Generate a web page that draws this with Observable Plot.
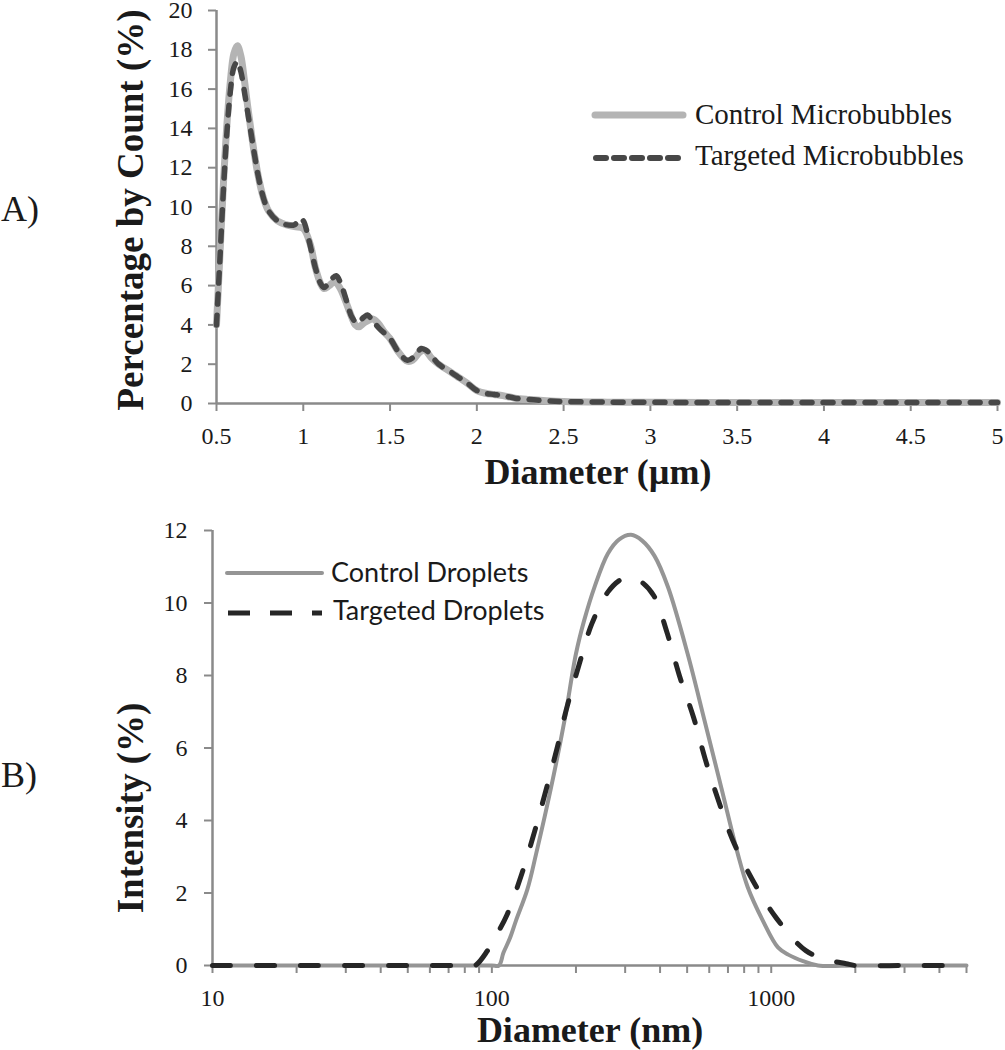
<!DOCTYPE html>
<html>
<head>
<meta charset="utf-8">
<script src="https://cdn.jsdelivr.net/npm/d3@7"></script>
<script src="https://cdn.jsdelivr.net/npm/@observablehq/plot@0.6"></script>
<style>
  html, body { margin: 0; padding: 0; background: #ffffff; }
  #wrap { position: relative; width: 1005px; height: 1050px; overflow: hidden; }
  #chartA, #chartB, #overlay { position: absolute; left: 0; }
  #chartA { top: 0; }
  #chartB { top: 500px; }
  #overlay { top: 0; pointer-events: none; }
  #wrap svg [aria-label$="axis tick"] path,
  #wrap svg .tick line { stroke: #8a8a8a; stroke-width: 2px; }
</style>
</head>
<body>
<div id="wrap">
  <div id="chartA"></div>
  <div id="chartB"></div>
  <svg id="overlay" width="1005" height="1050"></svg>
</div>
<script>
// ---------- Panel A: microbubbles (diameter in µm, percentage by count) ----------
const bubbleXTicks = [0.5, 1, 1.5, 2, 2.5, 3, 3.5, 4, 4.5, 5];
const bubbleYTicks = [0, 2, 4, 6, 8, 10, 12, 14, 16, 18, 20];

const controlBubbleX = [0.50, 0.52, 0.54, 0.56, 0.58, 0.60, 0.62, 0.64, 0.66, 0.68, 0.70, 0.72, 0.74, 0.76, 0.78, 0.80, 0.85, 0.90, 0.95, 1.00, 1.04, 1.07, 1.10, 1.12, 1.15, 1.18, 1.21, 1.24, 1.27, 1.30, 1.32, 1.35, 1.40, 1.43, 1.47, 1.50, 1.55, 1.60, 1.63, 1.67, 1.70, 1.74, 1.78, 1.85, 1.90, 1.95, 2.00, 2.05, 2.10, 2.15, 2.22, 2.30, 2.40, 2.50, 2.75, 3.00, 3.50, 4.00, 4.50, 5.00];
const controlBubbleY = [4.0, 7.6, 11.2, 14.2, 16.4, 17.8, 18.2, 17.7, 16.5, 15.1, 13.8, 12.6, 11.6, 10.8, 10.2, 9.8, 9.3, 9.1, 9.0, 8.9, 8.1, 6.9, 6.1, 5.85, 6.0, 6.2, 5.9, 5.3, 4.6, 4.0, 3.9, 4.1, 4.3, 4.1, 3.6, 3.3, 2.6, 2.15, 2.2, 2.6, 2.7, 2.3, 2.0, 1.6, 1.3, 1.0, 0.66, 0.52, 0.46, 0.40, 0.27, 0.20, 0.14, 0.10, 0.07, 0.06, 0.05, 0.05, 0.05, 0.05];

const targetedBubbleX = [0.50, 0.52, 0.54, 0.56, 0.58, 0.60, 0.62, 0.64, 0.66, 0.68, 0.70, 0.72, 0.74, 0.76, 0.78, 0.80, 0.85, 0.90, 0.95, 0.98, 1.00, 1.03, 1.07, 1.10, 1.12, 1.16, 1.19, 1.22, 1.25, 1.28, 1.31, 1.35, 1.37, 1.40, 1.44, 1.50, 1.55, 1.60, 1.64, 1.68, 1.71, 1.75, 1.78, 1.85, 1.90, 1.95, 2.00, 2.05, 2.10, 2.15, 2.22, 2.30, 2.40, 2.50, 2.75, 3.00, 3.50, 4.00, 4.50, 5.00];
const targetedBubbleY = [4.0, 7.4, 10.9, 13.8, 15.9, 17.1, 17.4, 16.9, 15.9, 14.8, 13.7, 12.6, 11.6, 10.8, 10.2, 9.8, 9.3, 9.1, 9.1, 9.4, 9.3, 8.4, 6.9, 6.1, 5.9, 6.3, 6.5, 6.0, 5.2, 4.4, 4.1, 4.4, 4.5, 4.2, 3.8, 3.3, 2.6, 2.2, 2.4, 2.8, 2.7, 2.3, 2.0, 1.6, 1.3, 1.0, 0.66, 0.52, 0.46, 0.40, 0.27, 0.20, 0.14, 0.10, 0.07, 0.06, 0.05, 0.05, 0.05, 0.05];

// ---------- Panel B: droplets (diameter in nm, intensity %) ----------
const dropXTicks = [10, 20, 30, 40, 50, 60, 70, 80, 90, 100, 200, 300, 400, 500, 600, 700, 800, 900, 1000, 2000, 3000, 4000, 5000];
const dropXLabels = [10, 100, 1000];
const dropYTicks = [0, 2, 4, 6, 8, 10, 12];

const controlDropX = [10, 20, 40, 60, 80, 100, 106, 110, 116, 122, 134, 144, 163, 182, 200, 214, 233, 260, 285, 315, 345, 382, 427, 502, 577, 662, 759, 824, 933, 1057, 1150, 1300, 1470, 2000, 3000, 5000];
const controlDropY = [0, 0, 0, 0, 0, 0, 0, 0.35, 0.75, 1.24, 2.1, 3.08, 4.92, 6.76, 8.6, 9.52, 10.44, 11.36, 11.75, 11.88, 11.72, 11.3, 10.44, 8.6, 6.76, 4.92, 3.08, 2.16, 1.24, 0.5, 0.3, 0.12, 0, 0, 0, 0];

const targetedDropX = [10, 20, 40, 60, 80, 87, 96.5, 104, 113, 128, 142, 155, 171, 185, 204, 228, 260, 290, 310, 340, 380, 423, 469, 527, 580, 644, 729, 860, 1045, 1330, 1600, 1855, 2000, 3000, 5000];
const targetedDropY = [0, 0, 0, 0, 0, 0, 0.41, 0.85, 1.38, 2.53, 3.68, 4.74, 5.98, 7.08, 8.23, 9.43, 10.3, 10.65, 10.7, 10.6, 10.2, 9.2, 8.0, 6.85, 5.7, 4.6, 3.45, 2.34, 1.3, 0.41, 0.15, 0.05, 0, 0, 0, 0];

// ---------- build tables ----------
const zip = (xs, ys) => xs.map((x, i) => ({x, y: ys[i]}));
const cb = zip(controlBubbleX, controlBubbleY);
const tb = zip(targetedBubbleX, targetedBubbleY);
const cd = zip(controlDropX, controlDropY);
const td = zip(targetedDropX, targetedDropY);

const axisColor = "#8a8a8a";
const serif = "'Liberation Serif', 'Times New Roman', serif";

const chartA = Plot.plot({
  width: 1005,
  height: 500,
  marginTop: 10,
  marginBottom: 97,
  marginLeft: 216,
  marginRight: 8,
  style: {fontFamily: serif, fontSize: "24px", color: "#1a1a1a", background: "transparent", overflow: "visible"},
  x: {type: "linear", domain: [0.5, 5], ticks: bubbleXTicks, tickFormat: d => String(d), tickSize: 8, tickPadding: 15, label: null},
  y: {domain: [0, 20], ticks: bubbleYTicks, tickSize: 8, tickPadding: 16, label: null},
  marks: [
    Plot.ruleY([0], {stroke: axisColor, strokeWidth: 2.5}),
    Plot.ruleX([0.5], {stroke: axisColor, strokeWidth: 2.5}),
    Plot.line(cb, {x: "x", y: "y", stroke: "#b4b4b4", strokeWidth: 7, curve: "catmull-rom", strokeLinejoin: "round", strokeLinecap: "round"}),
    Plot.line(tb, {x: "x", y: "y", stroke: "#474747", strokeWidth: 5.5, curve: "catmull-rom", strokeDasharray: "10,11", strokeLinecap: "round"})
  ]
});
document.getElementById("chartA").appendChild(chartA);

const chartB = Plot.plot({
  width: 1005,
  height: 550,
  marginTop: 30,
  marginBottom: 85,
  marginLeft: 212,
  marginRight: 39,
  style: {fontFamily: serif, fontSize: "24px", color: "#1a1a1a", background: "transparent", overflow: "visible"},
  x: {type: "log", domain: [10, 5000], ticks: dropXTicks, tickFormat: d => dropXLabels.includes(d) ? String(d) : "", tickSize: 8, tickPadding: 15, label: null},
  y: {domain: [0, 12], ticks: dropYTicks, tickSize: 8, tickPadding: 17, label: null},
  marks: [
    Plot.ruleY([0], {stroke: axisColor, strokeWidth: 2.5}),
    Plot.ruleX([10], {stroke: axisColor, strokeWidth: 2.5}),
    Plot.line(cd, {x: "x", y: "y", stroke: "#959595", strokeWidth: 4, curve: "catmull-rom", strokeLinejoin: "round"}),
    Plot.line(td, {x: "x", y: "y", stroke: "#262626", strokeWidth: 5, curve: "catmull-rom", strokeDasharray: "18,26", strokeLinecap: "round"})
  ]
});
document.getElementById("chartB").appendChild(chartB);

// ---------- overlay: panel letters, axis titles, legends ----------
const ov = d3.select("#overlay");
const txt = (x, y, s, opts = {}) => ov.append("text")
  .attr("x", x).attr("y", y)
  .attr("font-family", opts.family || serif)
  .attr("font-size", opts.size || 24)
  .attr("font-weight", opts.weight || "normal")
  .attr("text-anchor", opts.anchor || "start")
  .attr("fill", opts.fill || "#1a1a1a")
  .attr("transform", opts.transform || null)
  .text(s);

txt(1, 221, "A)", {size: 36});
txt(1, 787, "B)", {size: 36});

txt(0, 0, "Percentage by Count (%)", {size: 37, weight: "bold", anchor: "middle", transform: "translate(143,210) rotate(-90)"});
txt(0, 0, "Intensity (%)", {size: 37, weight: "bold", anchor: "middle", transform: "translate(143,808) rotate(-90)"});
txt(598, 484, "Diameter (\u00b5m)", {size: 36, weight: "bold", anchor: "middle"});
txt(590, 1042, "Diameter (nm)", {size: 36, weight: "bold", anchor: "middle"});

// legend A
ov.append("line").attr("x1", 595).attr("x2", 683).attr("y1", 115).attr("y2", 115)
  .attr("stroke", "#b4b4b4").attr("stroke-width", 7).attr("stroke-linecap", "round");
ov.append("line").attr("x1", 596).attr("x2", 684).attr("y1", 158).attr("y2", 158)
  .attr("stroke", "#474747").attr("stroke-width", 6).attr("stroke-dasharray", "10,8").attr("stroke-linecap", "round");
txt(695, 124, "Control Microbubbles", {size: 29});
txt(695, 165, "Targeted Microbubbles", {size: 29});

// legend B
const sans = "Lato, 'Open Sans', sans-serif";
ov.append("line").attr("x1", 227).attr("x2", 322).attr("y1", 573).attr("y2", 573)
  .attr("stroke", "#959595").attr("stroke-width", 4).attr("stroke-linecap", "round");
ov.append("line").attr("x1", 228).attr("x2", 322).attr("y1", 613).attr("y2", 613)
  .attr("stroke", "#262626").attr("stroke-width", 5).attr("stroke-dasharray", "22,20").attr("stroke-linecap", "butt");
txt(331, 582, "Control Droplets", {size: 27, family: sans});
txt(333, 620, "Targeted Droplets", {size: 27, family: sans});
</script>
</body>
</html>
